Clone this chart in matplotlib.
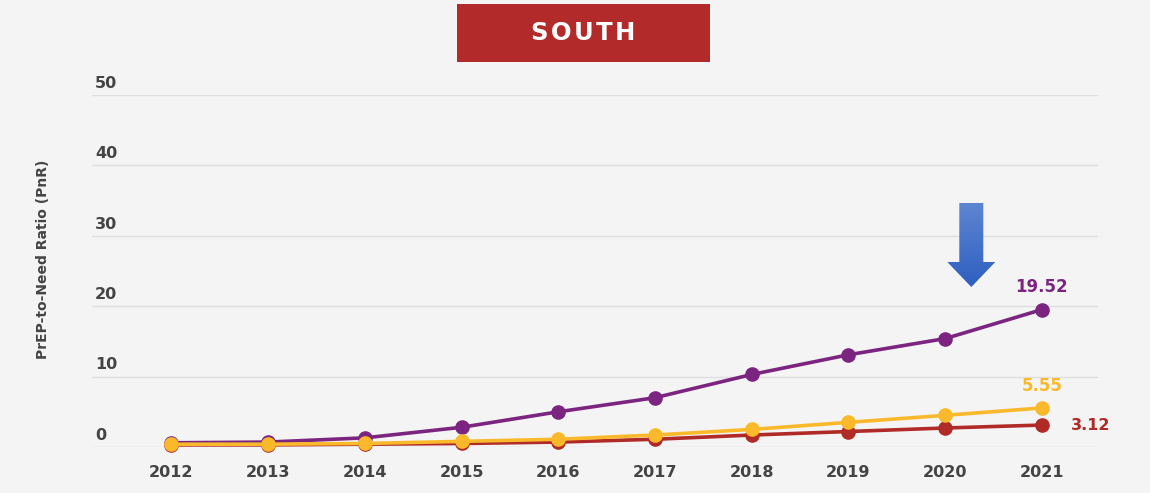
import matplotlib.pyplot as plt
import numpy as np
from matplotlib.colors import LinearSegmentedColormap
from matplotlib.patches import Polygon, Rectangle

years = [2012, 2013, 2014, 2015, 2016, 2017, 2018, 2019, 2020, 2021]
purple_vals = [0.6, 0.7, 1.3, 2.8, 5.0, 7.0, 10.3, 13.1, 15.4, 19.52]
red_vals = [0.3, 0.3, 0.4, 0.5, 0.7, 1.1, 1.7, 2.2, 2.7, 3.12]
yellow_vals = [0.4, 0.4, 0.5, 0.8, 1.1, 1.7, 2.5, 3.5, 4.5, 5.55]
y_ticks = [0, 10, 20, 30, 40, 50]

PURPLE = "#7b2480"
RED = "#b02a28"
YELLOW = "#f9b92b"
BG = "#f4f4f4"
TEXT = "#444444"

fig = plt.figure(figsize=(11.5, 4.93), dpi=100, facecolor=BG)
axis = fig.add_axes([0.08, 0.0933, 0.8748, 0.714])
axis.set_facecolor(BG)

for spine in axis.spines.values():
    spine.set_visible(False)
axis.set_yticks([])
axis.set_xticks(years)
axis.set_xticklabels([str(y) for y in years], fontsize=11.5, fontweight="bold", color=TEXT)
axis.tick_params(axis="x", length=0, pad=13)

for tick in y_ticks:
    axis.axhline(tick, color="#dedede", linewidth=1, zorder=0)
    axis.annotate(str(tick), xy=(0.003, tick), xycoords=("axes fraction", "data"),
                  xytext=(0, 3), textcoords="offset points", ha="left", va="bottom",
                  fontsize=11.5, fontweight="bold", color=TEXT)

for vals, colour in [(purple_vals, PURPLE), (red_vals, RED), (yellow_vals, YELLOW)]:
    axis.plot(years, vals, color=colour, linewidth=2.6, marker="o", markersize=9.5,
              clip_on=False, zorder=3)

axis.text(years[-1], purple_vals[-1] + 2.0, f"{purple_vals[-1]:.2f}", color=PURPLE,
          ha="center", va="bottom", fontsize=12, fontweight="bold")
axis.text(years[-1], yellow_vals[-1] + 1.9, f"{yellow_vals[-1]:.2f}", color=YELLOW,
          ha="center", va="bottom", fontsize=12, fontweight="bold")
axis.text(years[-1] + 0.3, red_vals[-1], f"{red_vals[-1]:.2f}", color=RED,
          ha="left", va="center", fontsize=11.5, fontweight="bold")

fig.text(0.0374, 0.473, "PrEP-to-Need Ratio (PnR)", rotation=90, ha="center", va="center",
         fontsize=10, fontweight="bold", color=TEXT)

# title banner
fig.patches.append(Rectangle((457 / 1150, 1 - 62 / 493), 253 / 1150, 58 / 493,
                             transform=fig.transFigure, facecolor="#b22a2a",
                             edgecolor="none", zorder=1))
fig.text(583.5 / 1150, 1 - 33 / 493, "S O U T H".replace(" ", "\u200a"), color="white",
         ha="center", va="center", fontsize=17.5, fontweight="bold", zorder=2)

# blue arrow with vertical gradient
ax_c, top, base, tip = 2020.27, 34.66, 26.28, 22.73
shaft, head = 0.124, 0.248
arrow = Polygon([(ax_c - shaft, top), (ax_c + shaft, top), (ax_c + shaft, base),
                 (ax_c + head, base), (ax_c, tip), (ax_c - head, base),
                 (ax_c - shaft, base)], closed=True, facecolor="none",
                edgecolor="none", transform=axis.transData)
axis.add_patch(arrow)
grad = np.linspace(0, 1, 100).reshape(-1, 1)
cmap = LinearSegmentedColormap.from_list("blue", ["#2e5fc0", "#5d86d2"])
img = axis.imshow(grad, cmap=cmap, extent=(ax_c - head, ax_c + head, tip, top),
                  origin="lower", aspect="auto", zorder=2)
img.set_clip_path(arrow)
axis.set_xlim(2011.18, 2021.58)
axis.set_ylim(0, 50)

fig.savefig("out.png", dpi=100, facecolor=BG)
